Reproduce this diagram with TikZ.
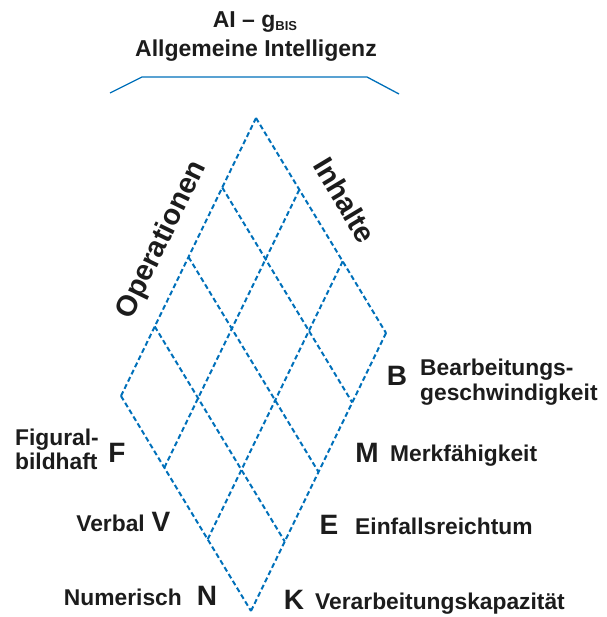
\documentclass[tikz,border=0pt]{standalone}
\usepackage{fontspec}
\setmainfont{Liberation Sans}
\usetikzlibrary{calc}
\definecolor{gridblue}{RGB}{0,112,186}
\definecolor{ink}{RGB}{28,28,28}
\begin{document}
\begin{tikzpicture}[x=1pt,y=-1pt,
  gridline/.style={gridblue,line width=2pt,dash pattern=on 5pt off 3pt},
  brace/.style={gridblue,line width=1.3pt},
  lbl/.style={inner sep=0pt,text=ink,font=\fontsize{22.8}{24}\selectfont\bfseries},
  big/.style={inner sep=0pt,text=ink,font=\fontsize{28}{30}\selectfont\bfseries},
  axis/.style={inner sep=0pt,text=ink,font=\fontsize{29}{31}\selectfont\bfseries},
  ttl/.style={inner sep=0pt,text=ink,font=\fontsize{23}{25}\selectfont\bfseries}]
\useasboundingbox (0,0) rectangle (606,617);

% heading
\node[ttl,anchor=base] (t1) at (255,28) {AI – g\raisebox{-2.5pt}{\fontsize{13}{14}\selectfont BIS}};
\node[ttl,anchor=base] (t2) at (256,57) {Allgemeine Intelligenz};
\coordinate (b1) at (110,93);
\coordinate (b2) at (142,77);
\coordinate (b3) at (367,77);
\coordinate (b4) at (399,94);
\draw[brace] (b1) -- (b2) -- (b3) -- (b4);

% rhombus corners
\coordinate (T) at (256,118);
\coordinate (R) at (386,333);
\coordinate (L) at (121,396);
\coordinate (D) at (251,611);

% outline
\draw[gridline] (T) -- (R);
\draw[gridline] (R) -- (D);
\draw[gridline] (T) -- (L);
\draw[gridline] (L) -- (D);

% operations: four bands
\foreach \i in {1,2,3} {
  \coordinate (oa\i) at ($(T)!\i/4!(L)$);
  \coordinate (ob\i) at ($(R)!\i/4!(D)$);
  \draw[gridline] (oa\i) -- (ob\i);
}
% contents: three bands
\foreach \j in {1,2} {
  \coordinate (ca\j) at ($(T)!\j/3!(R)$);
  \coordinate (cb\j) at ($(L)!\j/3!(D)$);
  \draw[gridline] (ca\j) -- (cb\j);
}

% facet names
\node[axis,rotate=64] (ops) at (162,240) {Operationen};
\node[axis,rotate=-59] (inh) at (345,200) {Inhalte};

% operations
\node[big,anchor=base] (B) at (397,385) {B};
\node[lbl,anchor=base west] (Bt1) at (420,375) {Bearbeitungs-};
\node[lbl,anchor=base west] (Bt2) at (420,400) {geschwindigkeit};
\node[big,anchor=base] (M) at (367,462) {M};
\node[lbl,anchor=base west] (Mt) at (390,461) {Merkfähigkeit};
\node[big,anchor=base] (E) at (329,534) {E};
\node[lbl,anchor=base west] (Et) at (355,534) {Einfallsreichtum};
\node[big,anchor=base] (K) at (294,609) {K};
\node[lbl,anchor=base west] (Kt) at (315,609) {Verarbeitungskapazität};

% contents
\node[big,anchor=base] (F) at (117,462) {F};
\node[lbl,anchor=base west] (Ft1) at (15,445) {Figural-};
\node[lbl,anchor=base west] (Ft2) at (15,469) {bildhaft};
\node[big,anchor=base] (V) at (161,531) {V};
\node[lbl,anchor=base east] (Vt) at (145,531) {Verbal};
\node[big,anchor=base] (N) at (207,605) {N};
\node[lbl,anchor=base east] (Nt) at (182,605) {Numerisch};
\end{tikzpicture}
\end{document}
